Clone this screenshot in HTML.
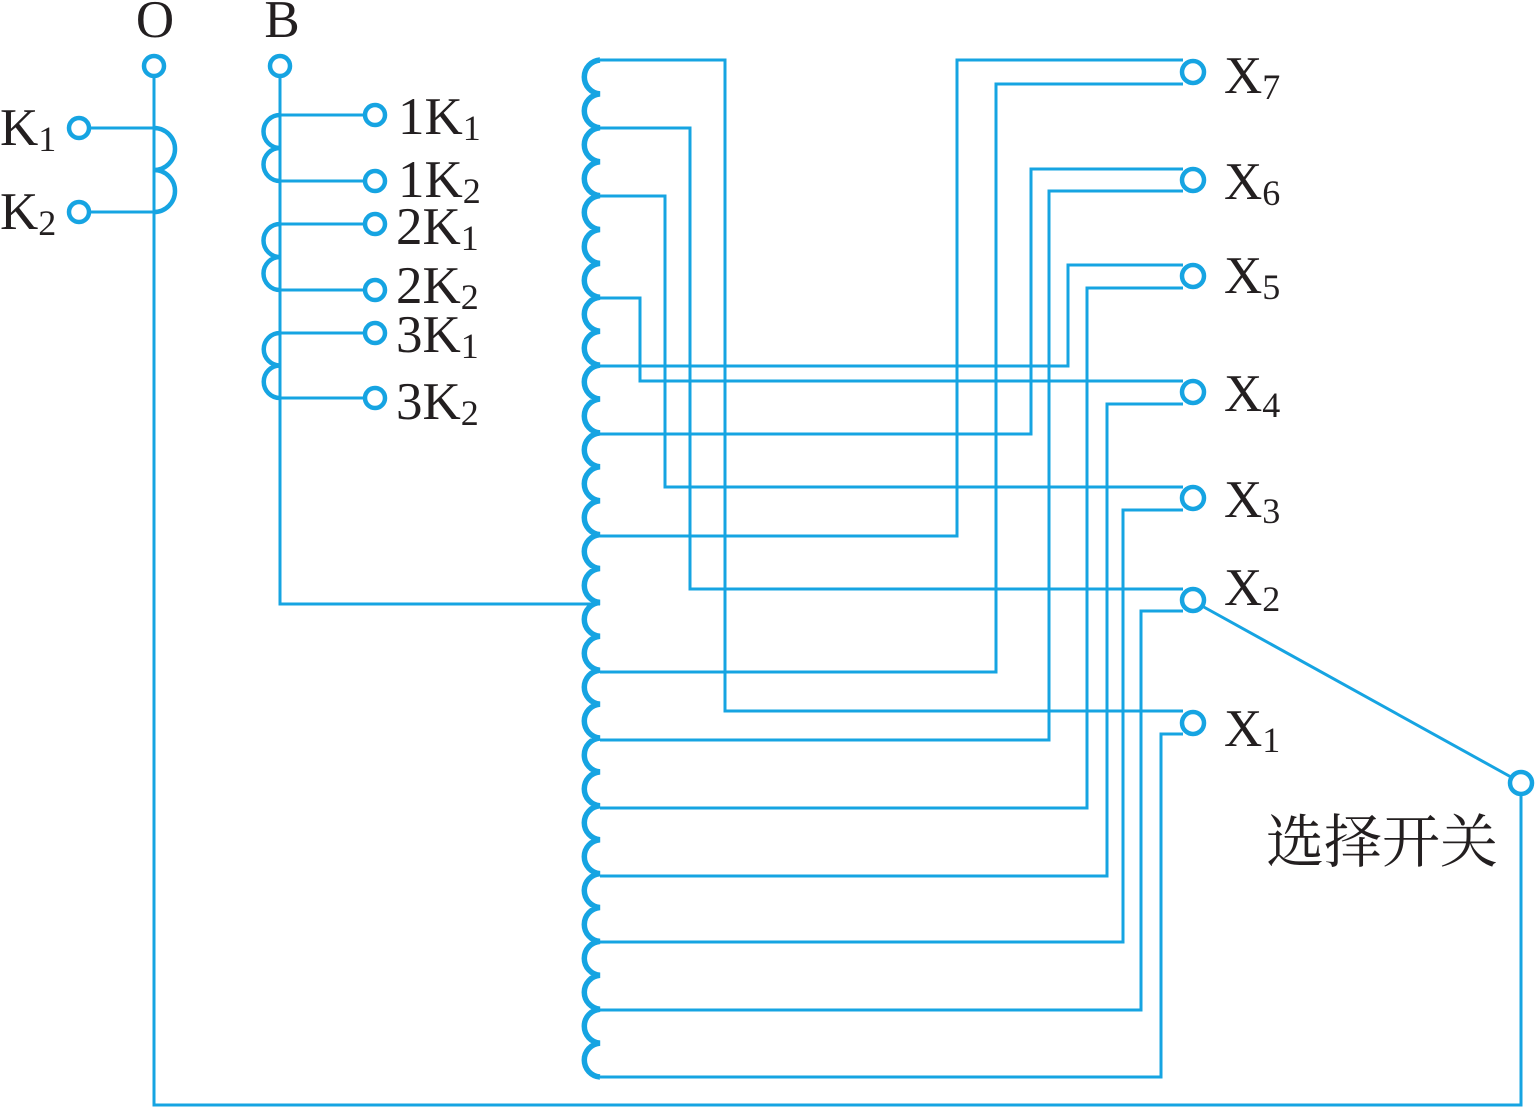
<!DOCTYPE html>
<html><head><meta charset="utf-8"><style>
html,body{margin:0;padding:0;background:#fff;}
svg{display:block}
text{font-family:"Liberation Serif","Noto Serif CJK SC",serif;fill:#231f20}
</style></head><body>
<svg width="1536" height="1107" viewBox="0 0 1536 1107" xmlns="http://www.w3.org/2000/svg">
<g fill="none" stroke="#16a4e2" stroke-width="3">
<polyline points="154,77 154,1105 1521,1105 1521,795"/>
<line x1="1202" y1="606" x2="1511" y2="777"/>
<line x1="89" y1="128" x2="154" y2="128"/>
<line x1="89" y1="212" x2="154" y2="212"/>
<path d="M154,128 A21,21 0 0 1 154,170 A21,21 0 0 1 154,212" stroke-width="4.5"/>
<polyline points="280,77 280,604 600,604"/>
<line x1="280" y1="115" x2="365" y2="115"/>
<line x1="280" y1="181" x2="365" y2="181"/>
<line x1="280" y1="224" x2="365" y2="224"/>
<line x1="280" y1="290" x2="365" y2="290"/>
<line x1="280" y1="333" x2="365" y2="333"/>
<line x1="280" y1="398" x2="365" y2="398"/>
<path d="M280,115 A16.5,16.5 0 0 0 280,148 A16.5,16.5 0 0 0 280,181" stroke-width="4.5"/>
<path d="M280,224 A16.5,16.5 0 0 0 280,257 A16.5,16.5 0 0 0 280,290" stroke-width="4.5"/>
<path d="M280,333 A16.25,16.25 0 0 0 280,365.5 A16.25,16.25 0 0 0 280,398" stroke-width="4.5"/>
<polyline points="600,60 725,60 725,711 1183,711"/>
<polyline points="600,128 690,128 690,589 1183,589"/>
<polyline points="600,196 665,196 665,487 1183,487"/>
<polyline points="600,298 640,298 640,381 1183,381"/>
<polyline points="600,366 1068,366 1068,265 1183,265"/>
<polyline points="600,434 1031,434 1031,169 1183,169"/>
<polyline points="600,536 957,536 957,60 1183,60"/>
<polyline points="600,672 996,672 996,84 1183,84"/>
<polyline points="600,740 1049,740 1049,191 1183,191"/>
<polyline points="600,808 1087,808 1087,288 1183,288"/>
<polyline points="600,876 1107,876 1107,404 1183,404"/>
<polyline points="600,942 1123,942 1123,510 1183,510"/>
<polyline points="600,1010 1141,1010 1141,611 1183,611"/>
<polyline points="600,1077 1161,1077 1161,734 1183,734"/>
<path stroke-width="5.5" d="M600,60
A17,17 0 0 0 600,93.9 A17,17 0 0 0 600,127.8 A17,17 0 0 0 600,161.7 A17,17 0 0 0 600,195.6 A17,17 0 0 0 600,229.5
A17,17 0 0 0 600,263.4 A17,17 0 0 0 600,297.3 A17,17 0 0 0 600,331.2 A17,17 0 0 0 600,365.1 A17,17 0 0 0 600,399
A17,17 0 0 0 600,432.9 A17,17 0 0 0 600,466.8 A17,17 0 0 0 600,500.7 A17,17 0 0 0 600,534.6 A17,17 0 0 0 600,568.5
A17,17 0 0 0 600,602.4 A17,17 0 0 0 600,636.3 A17,17 0 0 0 600,670.2 A17,17 0 0 0 600,704.1 A17,17 0 0 0 600,738
A17,17 0 0 0 600,771.9 A17,17 0 0 0 600,805.8 A17,17 0 0 0 600,839.7 A17,17 0 0 0 600,873.6 A17,17 0 0 0 600,907.5
A17,17 0 0 0 600,941.4 A17,17 0 0 0 600,975.3 A17,17 0 0 0 600,1009.2 A17,17 0 0 0 600,1043.1 A17,17 0 0 0 600,1077"/>
</g>
<g fill="#fff" stroke="#16a4e2" stroke-width="4.5">
<circle cx="154" cy="66" r="10"/><circle cx="280" cy="66" r="10"/>
<circle cx="79" cy="128" r="10"/><circle cx="79" cy="212" r="10"/>
<circle cx="375" cy="115" r="10"/><circle cx="375" cy="181" r="10"/>
<circle cx="375" cy="224" r="10"/><circle cx="375" cy="290" r="10"/>
<circle cx="375" cy="333" r="10"/><circle cx="375" cy="398" r="10"/>
<circle cx="1193" cy="72" r="11"/><circle cx="1193" cy="180" r="11"/>
<circle cx="1193" cy="276" r="11"/><circle cx="1193" cy="392" r="11"/>
<circle cx="1193" cy="498" r="11"/><circle cx="1193" cy="600" r="11"/>
<circle cx="1193" cy="723" r="11"/><circle cx="1521" cy="783" r="11"/>
</g>
<g font-size="53">
<text x="155" y="37" text-anchor="middle">O</text>
<text x="282" y="37" text-anchor="middle">B</text>
<text x="0" y="145">K<tspan font-size="36" dy="6">1</tspan></text>
<text x="0" y="229">K<tspan font-size="36" dy="6">2</tspan></text>
<text x="398" y="134">1K<tspan font-size="36" dy="6">1</tspan></text>
<text x="398" y="197">1K<tspan font-size="36" dy="6">2</tspan></text>
<text x="396" y="244">2K<tspan font-size="36" dy="6">1</tspan></text>
<text x="396" y="303">2K<tspan font-size="36" dy="6">2</tspan></text>
<text x="396" y="352">3K<tspan font-size="36" dy="6">1</tspan></text>
<text x="396" y="419">3K<tspan font-size="36" dy="6">2</tspan></text>
<text x="1224" y="93">X<tspan font-size="36" dy="6">7</tspan></text>
<text x="1224" y="199">X<tspan font-size="36" dy="6">6</tspan></text>
<text x="1224" y="293">X<tspan font-size="36" dy="6">5</tspan></text>
<text x="1224" y="411">X<tspan font-size="36" dy="6">4</tspan></text>
<text x="1224" y="517">X<tspan font-size="36" dy="6">3</tspan></text>
<text x="1224" y="605">X<tspan font-size="36" dy="6">2</tspan></text>
<text x="1224" y="746">X<tspan font-size="36" dy="6">1</tspan></text>
<text x="1266" y="862" font-size="58">选择开关</text>
</g>
</svg>
</body></html>
